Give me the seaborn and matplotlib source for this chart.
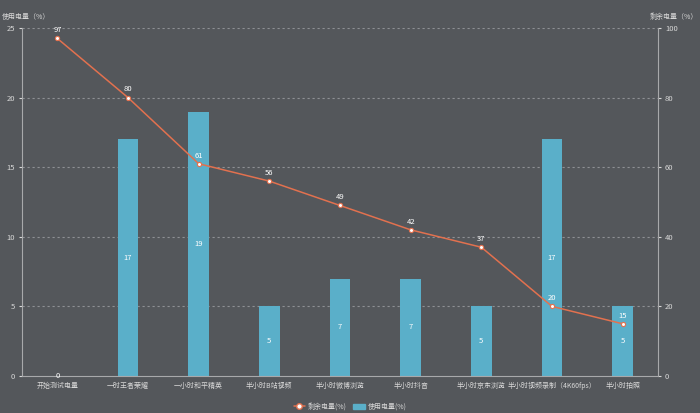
import matplotlib
matplotlib.use("Agg")
import matplotlib.pyplot as plt
import seaborn as sns
import pandas as pd
from matplotlib.lines import Line2D
from matplotlib.patches import Patch

categories = ["开始测试电量", "一时王者荣耀", "一小时和平精英", "半小时B站视频", "半小时微博浏览",
              "半小时抖音", "半小时京东浏览", "半小时视频录制（4K60fps）", "半小时拍照"]
used = [0, 17, 19, 5, 7, 7, 5, 17, 5]
remaining = [97, 80, 61, 56, 49, 42, 37, 20, 15]
left_ticks = [0, 5, 10, 15, 20, 25]
right_ticks = [0, 20, 40, 60, 80, 100]

sns.set_style("white")
plt.rcParams['font.family'] = ['Noto Sans CJK SC', 'DejaVu Sans']

BG = "#54575b"
BAR = "#5aafc9"
LINE = "#e2714f"
TXT = "#d8d8d8"
GRID = "#8e9094"

df = pd.DataFrame({"cat": categories, "used": used, "remaining": remaining})

fig = plt.figure(figsize=(7, 4.13), dpi=100, facecolor=BG)
ax = fig.add_axes([22/700, 1-376/413, (658-22)/700, (376-28)/413])
ax.set_facecolor(BG)
sns.barplot(data=df, x="cat", y="used", color=BAR, width=0.29, saturation=1, ax=ax, zorder=2,
            linewidth=0, edgecolor=BAR)
ax.set_ylim(0, 25)
ax.set_yticks(left_ticks)
ax.set_xlim(-0.5, len(categories) - 0.5)
for y in left_ticks[1:]:
    ax.axhline(y, color=GRID, lw=0.8, ls=(0, (2, 2.5)), zorder=1)
ax.set_xlabel("")
ax.set_ylabel("")
for s in ["top", "right"]:
    ax.spines[s].set_visible(False)
ax.spines["left"].set_color("#a8a9ab")
ax.spines["bottom"].set_color("#a8a9ab")
ax.tick_params(axis="y", colors=TXT, labelsize=5.5, length=2, pad=3)
ax.tick_params(axis="x", colors=TXT, labelsize=5, length=2, pad=2)
for i, v in enumerate(used):
    ax.text(i, v / 2, str(v), color="white", fontsize=5.5, ha="center", va="center", zorder=5)

ax2 = ax.twinx()
sns.pointplot(data=df, x="cat", y="remaining", color=LINE, markers="o", linestyles="-",
              ax=ax2, zorder=4, markersize=3, linewidth=1.1)
for coll in ax2.collections:
    coll.set_facecolor("white")
    coll.set_edgecolor(LINE)
for ln in ax2.lines:
    ln.set_markerfacecolor("white")
    ln.set_markeredgecolor(LINE)
ax2.set_ylim(0, 100)
ax2.set_yticks(right_ticks)
ax2.set_xlim(-0.5, len(categories) - 0.5)
ax2.set_xlabel("")
ax2.set_ylabel("")
for s in ["top", "left", "bottom"]:
    ax2.spines[s].set_visible(False)
ax2.spines["right"].set_color("#a8a9ab")
ax2.tick_params(axis="y", colors=TXT, labelsize=5.5, length=2, pad=3)
for i, v in enumerate(remaining):
    ax2.text(i, v + 1.2, str(v), color="white", fontsize=5.5, ha="center", va="bottom", zorder=6)

fig.text(2/700, 1-17/413, "使用电量（%）", color=TXT, fontsize=5, ha="left", va="center")
fig.text(698/700, 1-17/413, "剩余电量（%）", color=TXT, fontsize=5, ha="right", va="center")

handles = [Line2D([0], [0], color=LINE, marker="o", markerfacecolor="white", markeredgecolor=LINE,
                  markersize=4, lw=1.1),
           Patch(facecolor=BAR, edgecolor=BAR)]
fig.legend(handles, ["剩余电量(%)", "使用电量(%)"], loc="center", bbox_to_anchor=(0.5, 1-407/413),
           ncol=2, frameon=False, fontsize=5, labelcolor=TXT, handlelength=1.6, handleheight=0.8,
           columnspacing=1.0, handletextpad=0.4)

fig.savefig("out.png", dpi=100, facecolor=BG)
